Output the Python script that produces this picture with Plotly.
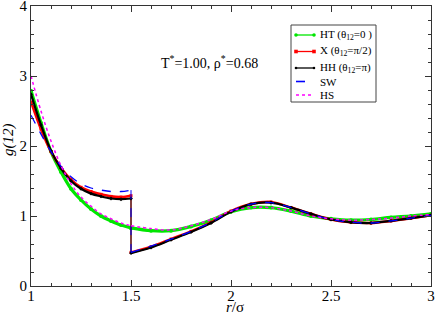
import plotly.graph_objects as go

# r grid (first shell then second part; 1.5 appears twice for the discontinuity)
r_a = [1.0, 1.05, 1.1, 1.15, 1.2, 1.25, 1.3, 1.35, 1.4, 1.45, 1.5]
r_b = [1.5, 1.6, 1.7, 1.8, 1.9, 2.0, 2.1, 2.2, 2.3, 2.4, 2.5, 2.6, 2.7, 2.8, 2.9, 3.0]

ht_a = [2.79, 2.33, 1.92, 1.63, 1.39, 1.23, 1.10, 1.00, 0.93, 0.87, 0.83]
ht_b = [0.83, 0.79, 0.79, 0.85, 0.94, 1.06, 1.12, 1.12, 1.07, 1.00, 0.96, 0.94, 0.95, 0.98, 1.00, 1.03]

x_a = [2.63, 2.24, 1.92, 1.69, 1.52, 1.41, 1.35, 1.31, 1.28, 1.27, 1.29]
x_b = [0.48, 0.56, 0.67, 0.78, 0.91, 1.07, 1.17, 1.20, 1.12, 1.03, 0.95, 0.91, 0.90, 0.93, 0.97, 1.01]

hh_a = [2.74, 2.30, 1.93, 1.68, 1.50, 1.39, 1.32, 1.28, 1.25, 1.24, 1.25]
hh_b = [0.47, 0.55, 0.66, 0.77, 0.90, 1.06, 1.17, 1.19, 1.12, 1.03, 0.95, 0.91, 0.90, 0.93, 0.97, 1.01]

sw_a = [2.44, 2.17, 1.92, 1.71, 1.56, 1.46, 1.40, 1.37, 1.35, 1.35, 1.37]
sw_b = [0.48, 0.57, 0.67, 0.78, 0.91, 1.07, 1.17, 1.19, 1.12, 1.03, 0.95, 0.91, 0.90, 0.93, 0.97, 1.01]

hs_a = [3.00, 2.50, 2.07, 1.72, 1.46, 1.27, 1.14, 1.03, 0.96, 0.90, 0.86]
hs_b = [0.86, 0.82, 0.80, 0.86, 0.95, 1.07, 1.12, 1.12, 1.07, 1.00, 0.96, 0.94, 0.95, 0.97, 1.00, 1.02]

names = ["HT (θ<sub>12</sub>=0 )", "X (θ<sub>12</sub>=π/2)", "HH (θ<sub>12</sub>=π)", "SW", "HS"]
tick_x = [1, 1.5, 2, 2.5, 3]
tick_y = [0, 1, 2, 3, 4]

FONT = "Liberation Serif"
W, H = 436, 318
ML, MR, MT, MB = 31, 5, 6, 32
PW, PH = W - ML - MR, H - MT - MB

def px(xp):
    return (xp - ML) / PW

def py(yp):
    return (H - MB - yp) / PH

fig = go.Figure()

styles = [
    dict(color="#00e600", width=3.2, dash=None, marker="circle", msize=4),
    dict(color="#ff0000", width=2.6, dash=None, marker="square", msize=3),
    dict(color="#000000", width=2.2, dash=None, marker="diamond", msize=3),
    dict(color="#0000ff", width=1.3, dash="dash", marker=None, msize=0),
    dict(color="#ff00ff", width=1.5, dash="dot", marker=None, msize=0),
]
series = [(ht_a, ht_b), (x_a, x_b), (hh_a, hh_b), (sw_a, sw_b), (hs_a, hs_b)]

for name, (ya, yb), st in zip(names, series, styles):
    line_s = dict(color=st["color"], width=st["width"], dash=st["dash"], shape="spline", smoothing=1.0)
    mk = dict(symbol=st["marker"], size=st["msize"], color=st["color"]) if st["marker"] else None
    mode = "lines+markers" if st["marker"] else "lines"
    fig.add_trace(go.Scatter(x=r_a, y=ya, name=name, legendgroup=name, mode=mode,
                             line=line_s, marker=mk, showlegend=False))
    fig.add_trace(go.Scatter(x=[r_a[-1], r_b[0]], y=[ya[-1], yb[0]], legendgroup=name,
                             mode="lines", showlegend=False,
                             line=dict(color=st["color"], width=1.0, dash=st["dash"])))
    fig.add_trace(go.Scatter(x=r_b, y=yb, name=name, legendgroup=name, mode=mode,
                             line=line_s, marker=mk, showlegend=False))

# ---- legend box drawn by hand (compact, like the original) ----
shapes = [dict(type="rect", xref="paper", yref="paper",
               x0=px(291), x1=px(376), y0=py(102), y1=py(25),
               line=dict(color="#444", width=1), fillcolor="white", layer="above")]
rows_y = [35, 51.5, 68, 81.5, 95]
for name, st, ry in zip(names, styles, rows_y):
    shapes.append(dict(type="line", xref="paper", yref="paper",
                       x0=px(296), x1=px(314), y0=py(ry), y1=py(ry), layer="above",
                       line=dict(color=st["color"], width=1.3 if st["marker"] else 1.6,
                                 dash=st["dash"] or "solid")))
    if st["marker"]:
        r = {"circle": 1.8, "square": 1.8, "diamond": 1.3}[st["marker"]]
        kind = "rect" if st["marker"] == "square" else "circle"
        for cx in (296, 314):
            shapes.append(dict(type=kind, xref="paper", yref="paper", layer="above",
                               x0=px(cx - r), x1=px(cx + r), y0=py(ry + r), y1=py(ry - r),
                               fillcolor=st["color"], line=dict(width=0)))
    fig.add_annotation(x=px(318), y=py(ry), xref="paper", yref="paper",
                       xanchor="left", yanchor="middle", text=name, showarrow=False,
                       font=dict(family=FONT, size=11, color="black"))
fig.update_layout(shapes=shapes)

fig.add_annotation(
    x=1.638, y=3.2, xref="x", yref="y", xanchor="left", yanchor="middle",
    text="T<sup>*</sup>=1.00, ρ<sup>*</sup>=0.68", showarrow=False,
    font=dict(family=FONT, size=14, color="black"),
)
# axis titles
fig.add_annotation(
    x=px(8), y=py(140), xref="paper", yref="paper", xanchor="center", yanchor="middle",
    text="<i>g(12)</i>", showarrow=False, textangle=-90,
    font=dict(family=FONT, size=15, color="black"),
)
fig.add_annotation(
    x=px(235), y=py(307), xref="paper", yref="paper", xanchor="center", yanchor="middle",
    text="<i>r</i>/σ", showarrow=False,
    font=dict(family=FONT, size=15, color="black"),
)

axis_common = dict(
    showgrid=False, zeroline=False, showline=True, linecolor="#333", linewidth=1.2,
    mirror="ticks", ticks="inside", ticklen=6, tickcolor="#333", automargin=False,
    ticklabeloverflow="allow",
    tickfont=dict(family=FONT, size=15, color="black"),
)
fig.update_xaxes(
    range=[1, 3], tickvals=tick_x, ticktext=[str(t) for t in tick_x],
    minor=dict(dtick=0.1, ticks="inside", ticklen=3, tickcolor="#333"),
    ticklabelstandoff=-4,
    **axis_common,
)
fig.update_yaxes(
    range=[0, 4], tickvals=tick_y, ticktext=[str(t) for t in tick_y],
    minor=dict(dtick=0.2, ticks="inside", ticklen=3, tickcolor="#333"),
    **axis_common,
)

fig.update_layout(
    width=W, height=H,
    margin=dict(l=ML, r=MR, t=MT, b=MB),
    paper_bgcolor="white", plot_bgcolor="white",
    font=dict(family=FONT, color="black"),
    showlegend=False,
)

fig.write_html("out.html", config={"displayModeBar": False},
               post_script="document.body.style.margin='0';")
